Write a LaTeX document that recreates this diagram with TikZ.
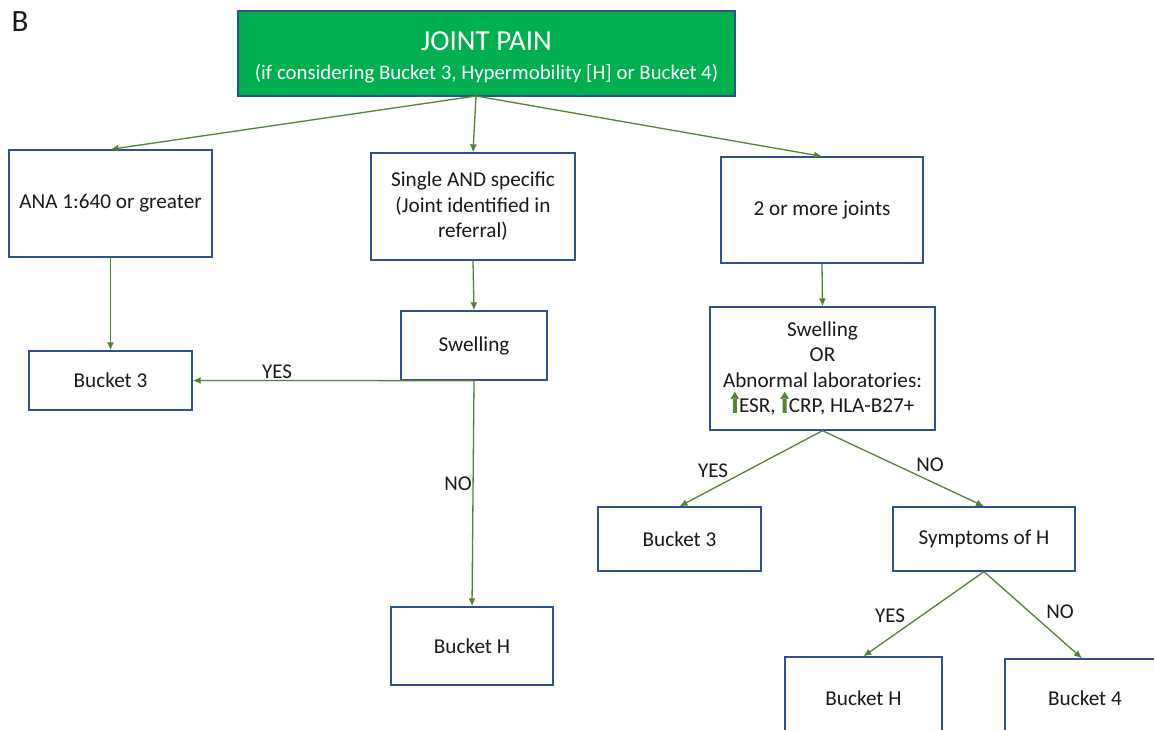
\documentclass[tikz,border=0pt]{standalone}
\usepackage{fontspec}
\setmainfont{Carlito}
\usetikzlibrary{arrows.meta}
\definecolor{boxblue}{HTML}{2F528F}
\definecolor{arrgreen}{HTML}{548235}
\definecolor{topgreen}{HTML}{00B050}
\newcommand\greenup{\tikz[baseline=0pt,x=1pt,y=1pt]{\fill[arrgreen] (-2,0) rectangle (2,14.5) (-4.2,14) -- (4.2,14) -- (0,21) -- cycle;}}
\begin{document}
\begin{tikzpicture}[x=1pt,y=-1pt,
  box/.style={draw=boxblue, line width=1.3pt, fill=white, align=center,
    font=\fontsize{21.2}{25.5}\selectfont, text=black!90, inner sep=0pt},
  arr/.style={draw=arrgreen, line width=1.3pt, -{Latex[length=8pt,width=7pt]}},
  lab/.style={font=\fontsize{21}{24}\selectfont, text=black!90, inner sep=0pt}]
\useasboundingbox (0,0) rectangle (1154,730);
\clip (0,0) rectangle (1154,730);
\fill[white] (0,0) rectangle (1154,730);

\node[lab, font=\fontsize{31}{33}\selectfont] (blabel) at (20,22) {B};

\node[draw=boxblue, line width=1.3pt, fill=topgreen, minimum width=497pt, minimum height=85pt] (top) at (486.5,53.5) {};
\node[text=white, align=center, inner sep=0pt, font=\fontsize{20.8}{28.5}\selectfont] (toptext) at (486.5,57.5)
  {{\fontsize{29}{28.5}\selectfont JOINT PAIN}\\(if considering Bucket 3, Hypermobility [H] or Bucket 4)};

\node[box, minimum width=203pt, minimum height=107pt] (ana) at (110.5,203.5) {ANA 1:640 or greater};
\node[box, minimum width=204pt, minimum height=107pt] (single) at (473,206.5) {Single AND specific\\(Joint identified in\\referral)};
\node[box, minimum width=202pt, minimum height=106pt] (multi) at (822,210) {2 or more joints};

\node[box, minimum width=163pt, minimum height=59pt] (bthreel) at (110.5,380.5) {Bucket 3};
\node[box, minimum width=146pt, minimum height=69pt] (swell) at (474,345.5) {Swelling};
\node[box, minimum width=162pt, minimum height=78pt] (bhm) at (472,646) {Bucket H};

\node[box, minimum width=225pt, minimum height=123pt] (swellor) at (822.5,368.5)
  {Swelling\\OR\\Abnormal laboratories:\\\greenup ESR, \greenup CRP, HLA-B27+};
\node[box, minimum width=163pt, minimum height=64pt] (bthreer) at (679.5,539) {Bucket 3};
\node[box, minimum width=182pt, minimum height=64pt] (symp) at (984,539) {Symptoms of H};
\node[box, minimum width=157pt, minimum height=83pt] (bhr) at (863.5,698.5) {Bucket H};
\node[box, minimum width=160pt, minimum height=78pt] (bfour) at (1085,698) {Bucket 4};

\coordinate (topo) at (476,96);
\draw[arr] (topo) -- (ana.north);
\draw[arr] (topo) -- (single.north);
\draw[arr] (topo) -- (multi.north);
\draw[arr] (ana.south) -- (bthreel.north);
\draw[arr] (single.south) -- (swell.north);
\draw[arr] (swell.south) -- (bthreel.east);
\draw[arr] (swell.south) -- (bhm.north);
\draw[arr] (multi.south) -- (swellor.north);
\draw[arr] (swellor.south) -- (bthreer.north);
\draw[arr] (swellor.south) -- (symp.north);
\draw[arr] (symp.south) -- (bhr.north);
\draw[arr] (symp.south) -- ([xshift=-3pt]bfour.north);

\node[lab] (yesa) at (277,372) {YES};
\node[lab] (noa) at (458,484) {NO};
\node[lab] (yesb) at (713,471) {YES};
\node[lab] (nob) at (930,465) {NO};
\node[lab] (yesc) at (890,616) {YES};
\node[lab] (noc) at (1060,612) {NO};
\end{tikzpicture}
\end{document}
